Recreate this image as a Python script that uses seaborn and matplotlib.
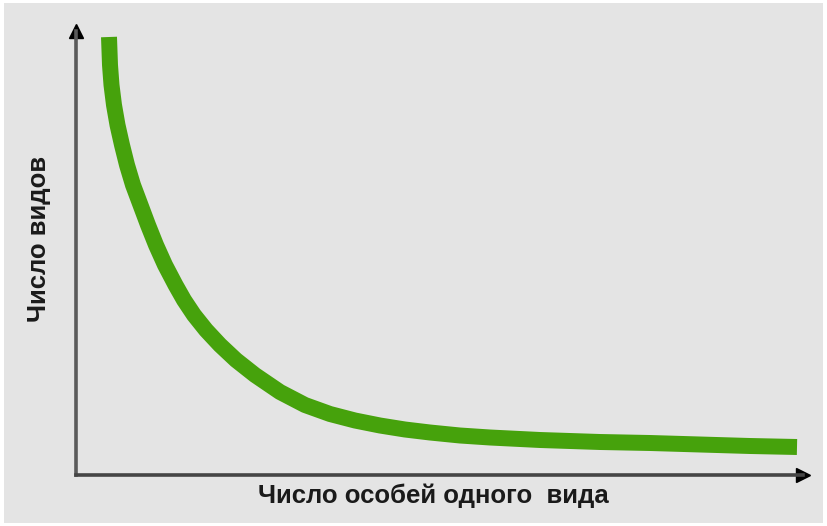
import numpy as np
import pandas as pd
import matplotlib
matplotlib.use("Agg")
import matplotlib.pyplot as plt
from matplotlib.patches import Rectangle
import seaborn as sns

# Curve (arbitrary units, origin at the axes corner)
abundance = [33, 34, 35.5, 38, 41.5, 46, 51, 57, 64.5, 72, 80, 89, 99.5, 108, 118, 130, 144,
             160, 179, 204, 229, 254, 279, 304, 329, 354, 384, 414, 464, 524, 574, 624, 674, 721]
species = [438, 410, 390, 370, 350, 330, 310, 290, 270, 250, 230, 210, 190, 175, 160, 145, 130,
           115, 100, 83, 70, 61, 54.5, 49.5, 45.5, 42.5, 39.5, 37.5, 35, 33, 32, 30.5, 29, 28]

x_label = "Число особей одного  вида"
y_label = "Число видов"

sns.set_theme(style="white")
plt.rcParams['font.family'] = ['Liberation Sans', 'DejaVu Sans']

W, H = 827, 526
fig = plt.figure(figsize=(W / 100, H / 100), dpi=100, facecolor="white")

# gray panel behind everything
fig.patches.append(Rectangle((4 / W, 3 / H), 819 / W, 520 / H, transform=fig.transFigure,
                             facecolor="#e4e4e4", edgecolor="none", zorder=-10))

ax = fig.add_axes([76 / W, (H - 475) / H, 727 / W, 444 / H])
ax.set_facecolor("none")

df = pd.DataFrame({"abundance": abundance, "species": species})
sns.lineplot(data=df, x="abundance", y="species", ax=ax, color="#46a20c",
             linewidth=11.5, estimator=None, sort=False)
for ln in ax.lines:
    ln.set_solid_capstyle("butt")
    ln.set_solid_joinstyle("round")

ax.set_xlim(0, 727)
ax.set_ylim(0, 444)
ax.set_xticks([])
ax.set_yticks([])

for side in ["top", "right"]:
    ax.spines[side].set_visible(False)
ax.spines["left"].set_color("#5a5a5a")
ax.spines["left"].set_linewidth(2.6)
ax.spines["bottom"].set_color("#454545")
ax.spines["bottom"].set_linewidth(2.6)

# arrow heads
ax.plot(1, 0, ">", color="black", markersize=10, transform=ax.transAxes, clip_on=False)
ax.plot(0, 1, "^", color="black", markersize=10, transform=ax.transAxes, clip_on=False)

ax.set_xlabel(x_label, fontsize=18.5, fontweight="bold", color="#1a1a1a")
ax.xaxis.set_label_coords(0.4915, -0.047)
ax.xaxis.label.set_va("center")
ax.set_ylabel(y_label, fontsize=18.5, fontweight="bold", color="#1a1a1a")
ax.yaxis.set_label_coords(-0.051, 0.532)
ax.yaxis.label.set_va("center")

fig.savefig("out.png", dpi=100, facecolor=fig.get_facecolor())
